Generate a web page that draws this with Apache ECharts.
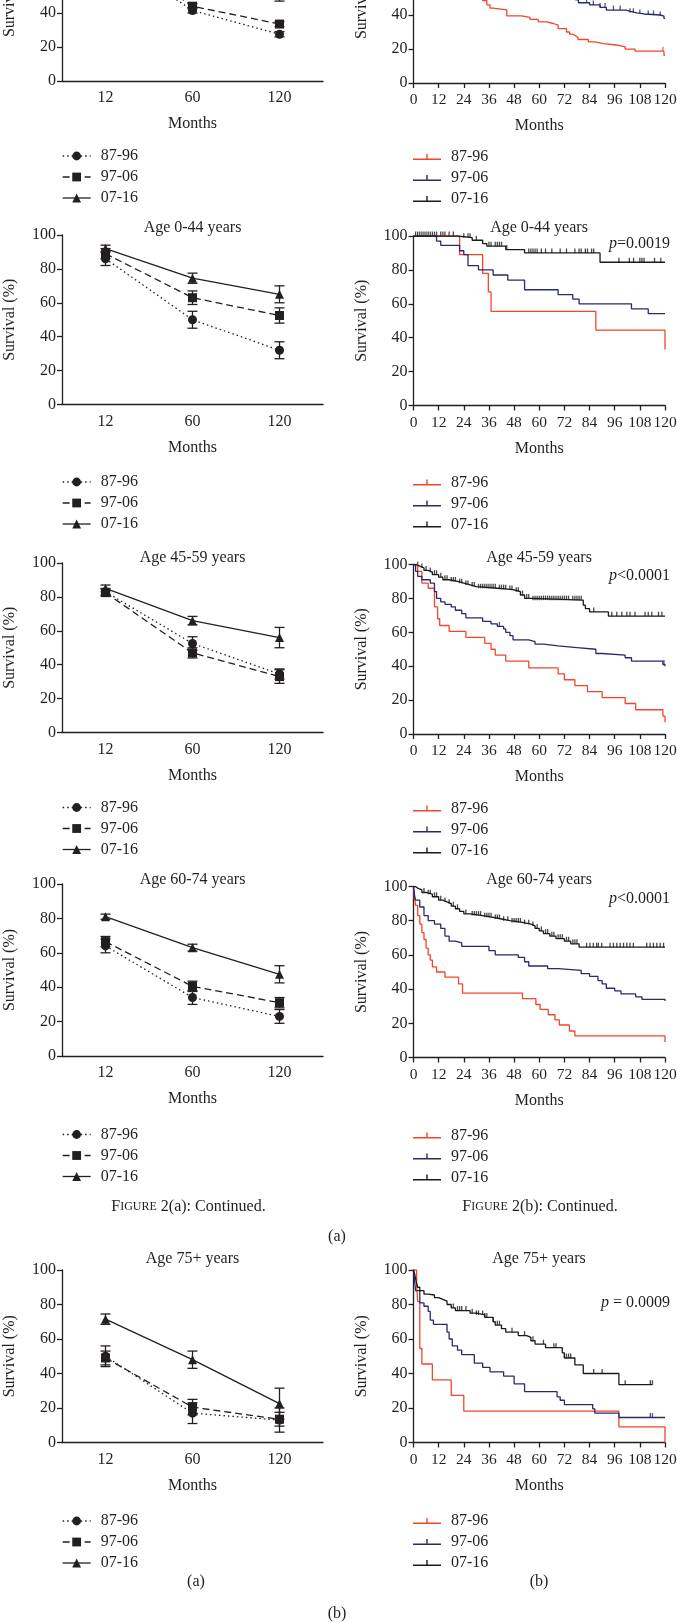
<!DOCTYPE html>
<html>
<head>
<meta charset="utf-8">
<title>Figure 2 continued</title>
<script src="https://cdn.jsdelivr.net/npm/echarts@6.0.0/dist/echarts.min.js"></script>
<style>
    html, body {margin: 0; padding: 0; background: #fff;}
    #main {width: 677px; height: 1622px;}
</style>
</head>
<body>
<div id="main"></div>
<script>
var periods = ['87-96', '97-06', '07-16'];
var landmarkMonths = ['12', '60', '120'];

// (a) survival at 12 / 60 / 120 months, with half length of the error bar
var allAges8796 = [76, 41.5, 27.5];
var allAges8796Err = [1.5, 1.5, 1.5];
var allAges9706 = [79, 44, 33.5];
var allAges9706Err = [1.5, 1.5, 1.5];
var allAges0716 = [86, 63, 51];
var allAges0716Err = [1.5, 2, 4];

var age044_8796 = [86, 50, 32];
var age044_8796Err = [4, 5, 5];
var age044_9706 = [89, 63, 52.5];
var age044_9706Err = [3, 4, 4.5];
var age044_0716 = [92, 74.5, 65];
var age044_0716Err = [2, 3, 5];

var age4559_8796 = [83, 52.5, 34.5];
var age4559_8796Err = [2, 4, 3];
var age4559_9706 = [82.5, 47, 33];
var age4559_9706Err = [2, 3, 4];
var age4559_0716 = [85, 66, 56];
var age4559_0716Err = [2, 2.5, 6];

var age6074_8796 = [64, 34, 23];
var age6074_8796Err = [4, 4, 4];
var age6074_9706 = [66.5, 40.5, 31];
var age6074_9706Err = [3, 3, 3];
var age6074_0716 = [81, 63, 47.5];
var age6074_0716Err = [1.5, 2, 5];

var age75_8796 = [50, 17, 13];
var age75_8796Err = [6, 6, 7];
var age75_9706 = [49, 20.5, 13.5];
var age75_9706Err = [4, 4.5, 4];
var age75_0716 = [71.5, 48, 22.5];
var age75_0716Err = [3, 5, 9];

// (b) Kaplan-Meier steps: [month, survival % after the step]
var kmAll_8796 = [[0, 100], [2, 94], [4, 88], [6, 83], [9, 77], [12, 72], [15, 68], [18, 64], [22, 59], [26, 55], [30, 51], [33, 48.5], [35, 46], [36.5, 44], [38, 43], [44.5, 39.5], [51.6, 38.6], [55.6, 37.4], [59.5, 36], [63.5, 35], [66.7, 34], [69, 32], [73, 30], [74.5, 28.7], [76, 27.7], [77.5, 26.8], [78.5, 25.6], [83.4, 24.2], [86.6, 23.2], [90.6, 22.2], [97.8, 21.3], [101, 19.9], [105.7, 18.7], [119.5, 16.3], [120, 16.3]];
var kmAll_9706 = [[0, 100], [3, 95], [6, 91], [10, 87], [14, 83], [18, 79], [24, 75], [30, 70], [36, 66], [42, 62], [48, 58], [54, 55], [60, 53], [66, 51], [72, 49.5], [75, 48.8], [78.7, 47.2], [84, 45.9], [89, 44.5], [92, 42.9], [101.7, 42.3], [103, 41.3], [106.5, 40.6], [110, 40], [117.7, 39.4], [119.5, 38], [120, 38]];
var kmAll_0716 = [[0, 100], [6, 96], [12, 92], [24, 86], [36, 81], [48, 77], [60, 73], [72, 69], [84, 66], [96, 64], [108, 62], [120, 61]];
var censAll_8796 = [119];
var censAll_9706 = [82.6, 85.8, 89, 91.4, 95.4, 98.6, 103.3, 104.9, 108, 112, 114.5, 117.7];
var censAll_0716 = [30, 50, 70, 90, 110];

var km044_8796 = [[0, 100], [22, 89], [33, 78], [35.7, 67], [37, 55.5], [87, 44.5], [120, 33]];
var km044_9706 = [[0, 100], [11, 97], [13, 94.5], [22, 91.3], [24, 89], [26, 82.5], [31, 80], [38, 77], [45, 74], [53, 68.3], [69, 65.4], [76, 62.8], [79, 60], [104, 57], [112, 54.2], [120, 54.2]];
var km044_0716 = [[0, 100], [21, 99], [28, 97.5], [33, 95.5], [35, 94], [44, 92], [53, 90], [89, 84.5], [120, 84.5]];
var cens044_8796 = [];
var cens044_9706 = [];
var cens044_0716 = [1, 2, 3, 4, 5, 6, 7, 8, 9, 10, 11, 13, 14, 15, 17, 19, 24, 26, 27, 30, 36, 37, 39, 40, 41, 42, 44.5, 55, 56, 57, 58, 59, 61, 63, 66, 70, 73, 77, 79, 80, 82, 83, 85, 86, 98, 103, 105, 108, 109, 110, 115, 118];

var km4559_8796 = [[0, 100], [2, 96], [4, 89], [7, 86], [10, 75], [11.5, 68], [12.5, 64], [17, 60.5], [25, 57], [34, 53.5], [37, 50], [39, 46.5], [44, 43], [55, 39], [69, 35.5], [72, 32], [77, 28.5], [83, 25], [90, 21.5], [101, 18], [106, 14.3], [119, 10.5], [120, 7]];
var km4559_9706 = [[0, 100], [1, 96], [2, 93], [4, 91], [8, 89], [10, 84], [11, 80], [13, 78], [15, 76.5], [18, 75], [20, 73], [23, 71], [25, 68.5], [33, 66.5], [37, 65], [40, 63.5], [43, 62], [44, 60], [46, 58], [47.5, 55.5], [55, 54.5], [58, 53], [62, 52], [69, 51], [78, 50], [87, 47.5], [90, 46.5], [101, 45], [104, 43], [119, 41], [120, 40]];
var km4559_0716 = [[0, 100], [1, 99], [3, 98], [5, 96.5], [7, 95.5], [9, 94], [12, 92.5], [14, 91], [17, 90], [21, 89], [24, 88], [27, 87], [30, 86], [40, 85.5], [45, 85], [48, 84], [51, 82], [53, 80], [56, 79], [81, 76], [82, 74], [84, 72], [93, 69.5], [120, 69.5]];
var cens4559_8796 = [];
var cens4559_9706 = [41, 119.5];
var cens4559_0716 = [2, 4, 6, 8, 10, 11, 13, 15, 16, 18, 19, 20, 22, 23, 25, 26, 28, 29, 31, 32, 33, 34, 35, 36, 37, 38, 39, 41, 42, 43, 44, 46, 47, 49, 50, 52, 54, 55, 57, 58, 59, 60, 61, 62, 63, 64, 65, 66, 67, 68, 69, 70, 71, 72, 73, 74, 76, 77, 78, 79, 80, 86, 94.6, 97, 99.4, 101.8, 103.3, 105.7, 110.5, 112, 113.7, 116.9, 118.5];

var km6074_8796 = [[0, 100], [0.5, 93], [1, 89], [2, 83], [3, 78], [4, 73], [5, 69], [6, 64], [7, 60], [8, 57], [9, 53], [11, 50], [15, 47], [21.5, 43], [23.4, 37.6], [52, 34.4], [58.4, 31], [60.4, 28.2], [64.3, 25], [67.5, 22], [69.6, 19], [74.4, 15.5], [77, 12.6], [120, 9]];
var km6074_9706 = [[0, 100], [0.5, 95], [1, 92], [3, 88], [5, 83], [7, 80], [10, 78], [13, 75.5], [15, 71], [17, 68], [20, 67], [23, 65], [36, 62.5], [39, 60], [50, 58.5], [53, 56], [55, 53.5], [64, 52], [69, 51], [80, 49], [84, 47.5], [88, 45], [90, 43], [92, 40.5], [96, 39], [99, 37.2], [106, 35.5], [109, 34], [120, 33]];
var km6074_0716 = [[0, 100], [1, 99], [2, 98], [4, 96.5], [6, 95.5], [9, 94], [12, 92], [14, 91], [16, 90], [18, 88.5], [20, 87], [22, 85.5], [24, 84], [27, 83], [33, 82], [38, 81], [42, 80], [46, 79], [52, 78], [56, 77], [58, 75.5], [60, 74], [62, 72.5], [65, 71], [68, 69.5], [72, 68], [75, 66.5], [79, 64.5], [120, 64.5]];
var cens6074_8796 = [];
var cens6074_9706 = [];
var cens6074_0716 = [5, 7, 8, 10, 11, 13, 15, 17, 19, 21, 25, 28, 29, 30, 31, 32, 34, 35, 36, 37, 39, 40, 41, 43, 45, 47, 48, 49, 50, 51, 53, 55, 57, 59, 61, 63, 64, 66, 67, 69, 70, 71, 73, 74, 76, 77, 78, 82.6, 84.2, 85.8, 87.4, 88.2, 89.8, 93.8, 95.4, 97, 98.6, 100.2, 101.8, 103.3, 104.9, 111.3, 112.9, 114.5, 116.1, 117.7, 119.3];

var km75_8796 = [[0, 100], [1.5, 91], [2, 81.7], [3, 54.5], [4, 45.5], [9, 36.3], [18, 27.3], [24, 18.2], [98, 9.1], [120, 0]];
var km75_9706 = [[0, 100], [0.5, 94], [1, 88], [3, 81], [5, 79], [7, 76], [8, 71], [9.5, 68.5], [16, 64], [17, 60], [18.5, 56], [21, 53.5], [23, 51], [29, 46], [33, 43.5], [36.5, 41], [43, 38.5], [48, 34], [53, 29.5], [68.5, 26.5], [70, 24.5], [72, 22], [85.5, 19.5], [86.5, 17], [98, 14.5], [120, 14.5]];
var km75_0716 = [[0, 100], [0.5, 98], [1, 95], [1.5, 92], [2, 90], [3, 88], [5, 86], [7, 85.5], [10, 84], [12, 83], [14, 82], [16, 80], [18, 78], [20, 76.5], [27, 75], [30, 74], [34, 72.5], [38, 70], [39, 68], [42, 66], [44, 64], [50, 62], [54, 61], [56, 59], [58, 57], [63, 55], [71, 52], [72, 49], [77, 45], [81, 40], [98, 33.5], [114, 33.5]];
var cens75_8796 = [];
var cens75_9706 = [113, 114];
var cens75_0716 = [19, 21, 22, 23, 25, 28, 30, 31, 33, 34, 35, 38, 40, 41, 47, 53, 57, 62, 67, 68, 72, 73, 74, 75, 86, 90, 101, 113, 114];

var panelTitles = ['', 'Age 0-44 years', 'Age 45-59 years', 'Age 60-74 years', 'Age 75+ years'];
var pValues = ['', '=0.0019', '<0.0001', '<0.0001', ' = 0.0009'];

var landmarkPanels = [
    {values: [allAges8796, allAges9706, allAges0716], errors: [allAges8796Err, allAges9706Err, allAges0716Err]},
    {values: [age044_8796, age044_9706, age044_0716], errors: [age044_8796Err, age044_9706Err, age044_0716Err]},
    {values: [age4559_8796, age4559_9706, age4559_0716], errors: [age4559_8796Err, age4559_9706Err, age4559_0716Err]},
    {values: [age6074_8796, age6074_9706, age6074_0716], errors: [age6074_8796Err, age6074_9706Err, age6074_0716Err]},
    {values: [age75_8796, age75_9706, age75_0716], errors: [age75_8796Err, age75_9706Err, age75_0716Err]}
];
var kmPanels = [
    {curves: [kmAll_8796, kmAll_9706, kmAll_0716], censored: [censAll_8796, censAll_9706, censAll_0716]},
    {curves: [km044_8796, km044_9706, km044_0716], censored: [cens044_8796, cens044_9706, cens044_0716]},
    {curves: [km4559_8796, km4559_9706, km4559_0716], censored: [cens4559_8796, cens4559_9706, cens4559_0716]},
    {curves: [km6074_8796, km6074_9706, km6074_0716], censored: [cens6074_8796, cens6074_9706, cens6074_0716]},
    {curves: [km75_8796, km75_9706, km75_0716], censored: [cens75_8796, cens75_9706, cens75_0716]}
];

// layout
var serif = '"Liberation Serif", "Times New Roman", serif';
var ink = '#231f20';
var kmColors = ['#f2462a', '#29296e', '#1a1a1a'];
var lineTypes = [[1.5, 3], [7, 4], 'solid'];
var markers = ['circle', 'rect', 'triangle'];
var tickIcon = 'path://M0,7 L13.3,7 L13.3,2.5 L14.7,2.5 L14.7,7 L28,7 L28,8.4 L0,8.4 Z';

var leftBox = [[-89, 170], [235, 169.5], [563, 169.5], [884, 172], [1270, 172.5]];   // [top, height]
var rightBox = [[-87, 170], [236, 169.5], [564.5, 169.5], [886.5, 171], [1270, 172.5]];
var leftLegendY = [156, 482, 807.5, 1134.5, 1521];
var rightLegendY = [157, 482.5, 808.5, 1135.5, 1521];
var titleY = [0, 227.5, 558, 880, 1259];
var pValueY = [0, 243.5, 576, 898.5, 1303];

function stepValueAt(steps, t) {
    var v = steps[0][1];
    for (var i = 0; i < steps.length; i++) {
        if (steps[i][0] <= t) v = steps[i][1];
    }
    return v;
}

function renderErrorBar(params, api) {
    var x = api.value(0), v = api.value(1), e = api.value(2);
    var hi = api.coord([x, v + e]);
    var lo = api.coord([x, v - e]);
    var w = 5;
    var style = {stroke: ink, lineWidth: 1.3, fill: null};
    return {
        type: 'group',
        children: [
            {type: 'line', shape: {x1: hi[0], y1: hi[1], x2: lo[0], y2: lo[1]}, style: style},
            {type: 'line', shape: {x1: hi[0] - w, y1: hi[1], x2: hi[0] + w, y2: hi[1]}, style: style},
            {type: 'line', shape: {x1: lo[0] - w, y1: lo[1], x2: lo[0] + w, y2: lo[1]}, style: style}
        ]
    };
}

var labelStyle = {color: ink, fontFamily: serif, fontSize: 16};
var legendText = {color: ink, fontFamily: serif, fontSize: 16, fontWeight: 'normal', padding: [0, 0, 0, 5]};
var axisLineStyle = {lineStyle: {color: ink, width: 1.3}};

var grids = [], xAxes = [], yAxes = [], series = [], legends = [], texts = [];

// left column: landmark survival
landmarkPanels.forEach(function (p, i) {
    grids.push({left: 62, width: 261, top: leftBox[i][0], height: leftBox[i][1], outerBoundsMode: 'none', containLabel: false});
    xAxes.push({
        type: 'category', gridIndex: i, data: landmarkMonths, boundaryGap: true,
        axisLine: axisLineStyle,
        axisTick: {alignWithLabel: true, length: 5, lineStyle: {color: ink, width: 1.3}},
        axisLabel: {color: ink, fontFamily: serif, fontSize: 16, margin: 9},
        splitLine: {show: false},
        name: 'Months', nameLocation: 'middle', nameGap: 35, nameTextStyle: labelStyle
    });
    yAxes.push({
        type: 'value', gridIndex: i, min: 0, max: 100, interval: 20,
        axisLine: {show: true, lineStyle: {color: ink, width: 1.3}},
        axisTick: {show: true, length: 5, lineStyle: {color: ink, width: 1.3}},
        axisLabel: {color: ink, fontFamily: serif, fontSize: 16, margin: 6},
        splitLine: {show: false},
        name: 'Survival (%)', nameLocation: 'middle', nameGap: 44, nameRotate: 90,
        nameMoveOverlap: false, nameTextStyle: labelStyle
    });
    var errData = [];
    periods.forEach(function (name, k) {
        p.values[k].forEach(function (v, c) {
            errData.push([c, v, p.errors[k][c]]);
        });
    });
    series.push({
        type: 'custom', name: 'error bars ' + i, xAxisIndex: i, yAxisIndex: i,
        renderItem: renderErrorBar, encode: {x: 0, y: 1}, data: errData, silent: true
    });
    periods.forEach(function (name, k) {
        series.push({
            type: 'line', name: name, xAxisIndex: i, yAxisIndex: i, data: p.values[k],
            symbol: markers[k], symbolSize: 9, showSymbol: true, clip: false,
            itemStyle: {color: ink},
            lineStyle: {color: ink, width: 1.3, type: lineTypes[k]},
            z: 3
        });
    });
    legends.push({
        orient: 'vertical', left: 62, top: leftLegendY[i] - 8, padding: 0,
        itemWidth: 28, itemHeight: 11, itemGap: 5, selectedMode: false,
        textStyle: legendText,
        data: periods.map(function (name, k) {
            return {name: name, textStyle: legendText, lineStyle: {type: lineTypes[k], width: 1.3, color: ink}};
        })
    });
});

// right column: Kaplan-Meier curves
kmPanels.forEach(function (p, i) {
    var g = 5 + i;
    grids.push({left: 413.5, width: 251.5, top: rightBox[i][0], height: rightBox[i][1], outerBoundsMode: 'none', containLabel: false});
    xAxes.push({
        type: 'value', gridIndex: g, min: 0, max: 120, interval: 12,
        axisLine: axisLineStyle,
        axisTick: {length: 5, lineStyle: {color: ink, width: 1.3}},
        axisLabel: {color: ink, fontFamily: serif, fontSize: 15.5, margin: 9},
        splitLine: {show: false},
        name: 'Months', nameLocation: 'middle', nameGap: 35, nameTextStyle: labelStyle
    });
    yAxes.push({
        type: 'value', gridIndex: g, min: 0, max: 100, interval: 20,
        axisLine: {show: true, lineStyle: {color: ink, width: 1.3}},
        axisTick: {show: true, length: 5, lineStyle: {color: ink, width: 1.3}},
        axisLabel: {color: ink, fontFamily: serif, fontSize: 16, margin: 6},
        splitLine: {show: false},
        name: 'Survival (%)', nameLocation: 'middle', nameGap: 44, nameRotate: 90,
        nameMoveOverlap: false, nameTextStyle: labelStyle
    });
    periods.forEach(function (name, k) {
        series.push({
            type: 'line', name: name + ' KM', xAxisIndex: g, yAxisIndex: g, data: p.curves[k],
            step: 'end', showSymbol: false, symbol: 'none',
            lineStyle: {color: kmColors[k], width: 1.3}, itemStyle: {color: kmColors[k]}
        });
        series.push({
            type: 'scatter', name: name + ' KM censored', xAxisIndex: g, yAxisIndex: g,
            data: p.censored[k].map(function (t) { return [t, stepValueAt(p.curves[k], t)]; }),
            symbol: 'rect', symbolSize: [1.3, 4.5], symbolOffset: [0, -2.2],
            itemStyle: {color: kmColors[k]}, silent: true
        });
    });
    legends.push({
        orient: 'vertical', left: 413, top: rightLegendY[i] - 8, padding: 0,
        itemWidth: 28, itemHeight: 11, itemGap: 5, selectedMode: false,
        textStyle: legendText,
        formatter: function (name) { return name.replace(' KM', ''); },
        data: periods.map(function (name, k) {
            return {name: name + ' KM', icon: tickIcon, textStyle: legendText, itemStyle: {color: kmColors[k], borderWidth: 0}};
        })
    });
    if (panelTitles[i]) {
        texts.push({type: 'text', x: 192.5, y: titleY[i], style: {text: panelTitles[i], fill: ink, fontFamily: serif, fontSize: 16, align: 'center', verticalAlign: 'middle'}});
        texts.push({type: 'text', x: 539, y: titleY[i], style: {text: panelTitles[i], fill: ink, fontFamily: serif, fontSize: 16, align: 'center', verticalAlign: 'middle'}});
        texts.push({
            type: 'text', x: 670, y: pValueY[i],
            style: {
                text: '{i|p}' + pValues[i], fill: ink, fontFamily: serif, fontSize: 16, align: 'right', verticalAlign: 'middle',
                rich: {i: {fontStyle: 'italic', fontFamily: serif, fontSize: 16, fill: ink}}
            }
        });
    }
});

// captions
function caption(x, y, text) {
    return {
        type: 'text', x: x, y: y,
        style: {
            text: text, fill: ink, fontFamily: serif, fontSize: 16, align: 'center', verticalAlign: 'middle',
            rich: {
                big: {fontSize: 16, fontFamily: serif, fill: ink},
                sm: {fontSize: 12, fontFamily: serif, fill: ink}
            }
        }
    };
}
texts.push(caption(188.5, 1207, '{big|F}{sm|IGURE} 2(a): Continued.'));
texts.push(caption(540, 1207, '{big|F}{sm|IGURE} 2(b): Continued.'));
texts.push(caption(337, 1237, '(a)'));
texts.push(caption(196, 1582, '(a)'));
texts.push(caption(539, 1582, '(b)'));
texts.push(caption(337, 1614, '(b)'));

var chart = echarts.init(document.getElementById('main'));
chart.setOption({
    backgroundColor: '#fff',
    animation: false,
    grid: grids,
    xAxis: xAxes,
    yAxis: yAxes,
    legend: legends,
    graphic: texts,
    series: series
});
</script>
</body>
</html>
